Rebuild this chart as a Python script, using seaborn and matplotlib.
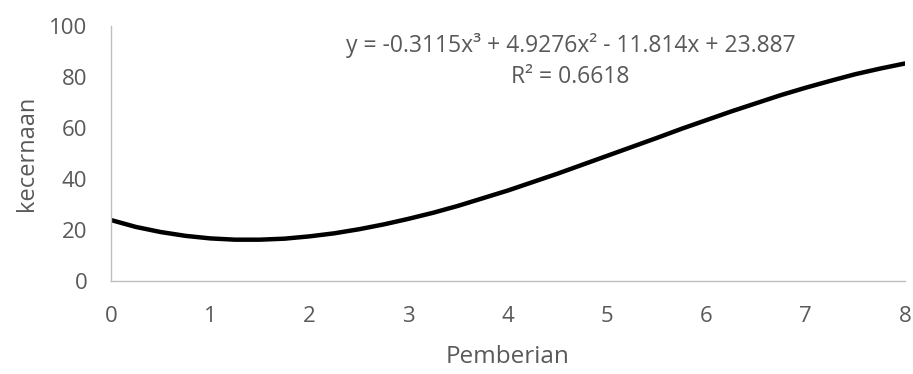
import matplotlib
matplotlib.use('Agg')
import pandas as pd
import matplotlib.pyplot as plt
import seaborn as sns

pemberian = [0, 0.25, 0.5, 0.75, 1, 1.25, 1.5, 1.75, 2, 2.25, 2.5, 2.75,
             3, 3.25, 3.5, 3.75, 4, 4.25, 4.5, 4.75, 5, 5.25, 5.5, 5.75,
             6, 6.25, 6.5, 6.75, 7, 7.25, 7.5, 7.75, 8]
kecernaan = [23.9, 21.2, 19.2, 17.7, 16.7, 16.2, 16.2, 16.6, 17.5, 18.7,
             20.3, 22.2, 24.4, 26.8, 29.5, 32.5, 35.5, 38.8, 42.1, 45.6,
             49.1, 52.6, 56.1, 59.7, 63.1, 66.5, 69.7, 72.9, 75.8, 78.5,
             81.1, 83.3, 85.3]
x_ticks = [0, 1, 2, 3, 4, 5, 6, 7, 8]
y_ticks = [0, 20, 40, 60, 80, 100]
equation_text = 'y = -0.3115x³ + 4.9276x² - 11.814x + 23.887'
r2_text = 'R² = 0.6618'

df = pd.DataFrame({'Pemberian': pemberian, 'kecernaan': kecernaan})

sns.set_style('white')
plt.rcParams['font.family'] = ['Open Sans', 'DejaVu Sans']

grey = '#595959'
spine = '#bfbfbf'

fig, ax = plt.subplots(figsize=(9.13, 3.74), dpi=100)
fig.subplots_adjust(left=0.1216, right=0.9912, top=0.9305, bottom=0.2487)

sns.lineplot(data=df, x='Pemberian', y='kecernaan', color='black',
             linewidth=3.2, ax=ax)

ax.set_xlim(0, 8)
ax.set_ylim(0, 100)
ax.set_xticks(x_ticks)
ax.set_yticks(y_ticks)
ax.tick_params(axis='both', colors=spine, labelcolor=grey, labelsize=16,
               length=7, width=1, direction='out')
ax.tick_params(axis='x', pad=11)
ax.tick_params(axis='y', pad=10)

for side in ['top', 'right']:
    ax.spines[side].set_visible(False)
for side in ['left', 'bottom']:
    ax.spines[side].set_color(spine)
    ax.spines[side].set_linewidth(1)

ax.set_xlabel('Pemberian', fontsize=17.5, color=grey, labelpad=13)
ax.set_ylabel('kecernaan', fontsize=17, color=grey, labelpad=7)

ax.text(0.579, 0.925, equation_text, transform=ax.transAxes,
        ha='center', va='center', fontsize=16.5, color=grey)
ax.text(0.578, 0.80, r2_text, transform=ax.transAxes,
        ha='center', va='center', fontsize=16.5, color=grey)

plt.savefig('out.png', dpi=100)
